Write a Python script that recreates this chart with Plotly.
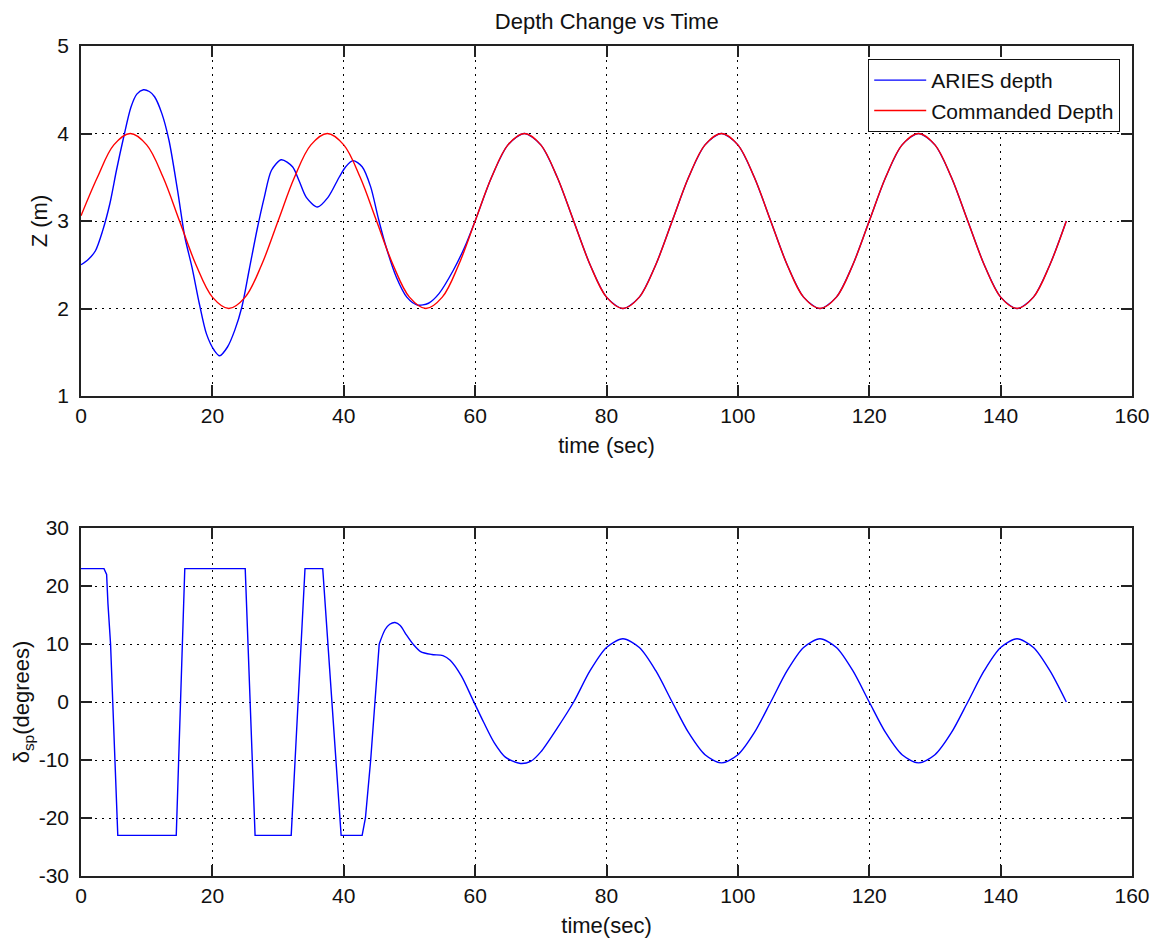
import plotly.graph_objects as go
from plotly.subplots import make_subplots

# ---------------- data ----------------
# Commanded depth (m), sampled every 2.5 s from 0 to 150 s
cmd_time = [0, 2.5, 5, 7.5, 10, 12.5, 15, 17.5, 20, 22.5, 25, 27.5,
            30, 32.5, 35, 37.5, 40, 42.5, 45, 47.5, 50, 52.5, 55, 57.5,
            60, 62.5, 65, 67.5, 70, 72.5, 75, 77.5, 80, 82.5, 85, 87.5,
            90, 92.5, 95, 97.5, 100, 102.5, 105, 107.5, 110, 112.5, 115, 117.5,
            120, 122.5, 125, 127.5, 130, 132.5, 135, 137.5, 140, 142.5, 145, 147.5,
            150]
cmd_depth = [3.06, 3.5, 3.87, 4.0, 3.87, 3.5, 3.0, 2.5, 2.13, 2.0, 2.13, 2.5,
             3.0, 3.5, 3.87, 4.0, 3.87, 3.5, 3.0, 2.5, 2.13, 2.0, 2.13, 2.5,
             3.0, 3.5, 3.87, 4.0, 3.87, 3.5, 3.0, 2.5, 2.13, 2.0, 2.13, 2.5,
             3.0, 3.5, 3.87, 4.0, 3.87, 3.5, 3.0, 2.5, 2.13, 2.0, 2.13, 2.5,
             3.0, 3.5, 3.87, 4.0, 3.87, 3.5, 3.0, 2.5, 2.13, 2.0, 2.13, 2.5,
             3.0]

# ARIES depth (m)
aries_time = [0, 1.1, 2.2, 3.3, 4.4, 5.4, 6.5, 7.6, 8.5, 9.5, 10.4, 11.2,
              12.3, 13.4, 14.7, 15.8, 16.9, 18.0, 19.1, 20.3, 21.1, 22.3, 23.4,
              24.5, 25.6, 26.8, 27.9, 29.0, 30.5, 32.2, 33.2, 34.3, 36.0, 37.6,
              39.3, 40.3, 41.4, 42.8, 44.1, 45.2, 46.3, 48.0, 49.6, 51.2, 52.9,
              54.5, 56.7, 58.4, 60.0,
              62.5, 65, 67.5, 70, 72.5, 75, 77.5, 80, 82.5, 85, 87.5,
              90, 92.5, 95, 97.5, 100, 102.5, 105, 107.5, 110, 112.5, 115, 117.5,
              120, 122.5, 125, 127.5, 130, 132.5, 135, 137.5, 140, 142.5, 145, 147.5,
              150]
aries_depth = [2.50, 2.56, 2.66, 2.89, 3.20, 3.58, 3.96, 4.30, 4.45, 4.50, 4.48, 4.42,
               4.23, 3.92, 3.35, 2.82, 2.47, 2.06, 1.71, 1.52, 1.46, 1.56, 1.75,
               2.02, 2.44, 2.90, 3.27, 3.58, 3.70, 3.62, 3.46, 3.27, 3.16, 3.27,
               3.50, 3.62, 3.69, 3.62, 3.39, 3.05, 2.74, 2.36, 2.13, 2.04, 2.06,
               2.17, 2.44, 2.70, 3.00,
               3.5, 3.87, 4.0, 3.87, 3.5, 3.0, 2.5, 2.13, 2.0, 2.13, 2.5,
               3.0, 3.5, 3.87, 4.0, 3.87, 3.5, 3.0, 2.5, 2.13, 2.0, 2.13, 2.5,
               3.0, 3.5, 3.87, 4.0, 3.87, 3.5, 3.0, 2.5, 2.13, 2.0, 2.13, 2.5,
               3.0]

# Sternplane deflection (deg): saturated switching phase
sat_time = [0, 3.5, 3.9, 4.1, 4.5, 4.8, 5.1, 5.4, 5.6, 14.5, 15.8, 25.0, 26.5,
            32.0, 34.1, 36.8, 39.6, 42.8, 43.3, 44.1, 44.7, 45.4]
sat_defl = [23, 23, 22, 17, 10, 0, -10, -20, -23, -23, 23, 23, -23,
            -23, 23, 23, -23, -23, -20, -10, 0, 10]

# Sternplane deflection (deg): smooth tracking phase
trk_time = [45.4, 46.3, 47.0, 47.8, 48.6, 49.4, 50.6, 51.7, 53.4, 55.1, 56.2,
            57.9, 59.6, 61.3, 62.9, 64.6, 66.9, 68.5, 70.0, 72.5, 75.0, 77.5,
            80, 82.5, 85, 87.5, 90, 92.5, 95, 97.5, 100, 102.5, 105, 107.5,
            110, 112.5, 115, 117.5, 120, 122.5, 125, 127.5, 130, 132.5, 135,
            137.5, 140, 142.5, 145, 147.5, 150]
trk_defl = [10.0, 12.5, 13.4, 13.7, 13.2, 11.8, 9.9, 8.7, 8.2, 8.0, 7.2,
            4.5, 0.5, -3.5, -7.0, -9.5, -10.6, -10.2, -8.6, -4.5, 0.0, 5.4,
            9.4, 10.9, 9.4, 5.4, 0.0, -5.3, -9.1, -10.5, -9.1, -5.3, 0.0, 5.4,
            9.4, 10.9, 9.4, 5.4, 0.0, -5.3, -9.1, -10.5, -9.1, -5.3, 0.0,
            5.4, 9.4, 10.9, 9.4, 5.4, 0.0]

x_ticks = [0, 20, 40, 60, 80, 100, 120, 140, 160]
z_ticks = [1, 2, 3, 4, 5]
d_ticks = [-30, -20, -10, 0, 10, 20, 30]

# ---------------- figure ----------------
# page has an 8 px body margin; target page positions are converted to figure coords
OFF = 8
W, H = 1159 - OFF, 944 - OFF
PL, PR, PT, PB = 81, 1132.5, 46, 876          # plot area in page pixels
ML, MR = PL - OFF, W - (PR - OFF)
MT, MB = PT - OFF, H - (PB - OFF)
plot_h = PB - PT
plot_w = PR - PL

fig = make_subplots(rows=2, cols=1, shared_xaxes=False, vertical_spacing=0.1)

BLUE = "#0000FF"
RED = "#FF0000"

fig.add_trace(go.Scatter(x=aries_time, y=aries_depth, mode="lines",
                         name="ARIES depth",
                         line=dict(color=BLUE, width=1.4, shape="spline", smoothing=0.8)),
              row=1, col=1)
fig.add_trace(go.Scatter(x=cmd_time, y=cmd_depth, mode="lines",
                         name="Commanded Depth",
                         line=dict(color=RED, width=1.4, shape="spline", smoothing=1.0)),
              row=1, col=1)
fig.add_trace(go.Scatter(x=sat_time, y=sat_defl, mode="lines", showlegend=False,
                         line=dict(color=BLUE, width=1.4)),
              row=2, col=1)
fig.add_trace(go.Scatter(x=trk_time, y=trk_defl, mode="lines", showlegend=False,
                         line=dict(color=BLUE, width=1.4, shape="spline", smoothing=0.8)),
              row=2, col=1)

FONT = "Liberation Sans, Arial, sans-serif"
TICKFONT = dict(family=FONT, size=21, color="#111111")
LABELFONT = dict(family=FONT, size=22, color="#111111")

axis_common = dict(
    showline=True, linecolor="#222222", linewidth=1.5, mirror="ticks",
    ticks="inside", ticklen=11, tickwidth=1.5, tickcolor="#222222",
    showgrid=True, gridcolor="#000000", gridwidth=1, griddash="2px,5px",
    zeroline=False, tickfont=TICKFONT, automargin=False,
)

top_dom = [(PB - 396) / plot_h, 1.0]
bot_dom = [0.0, (PB - 528) / plot_h]

fig.update_xaxes(range=[0, 160], tickvals=x_ticks,
                 ticktext=[str(v) for v in x_ticks], ticklabelstandoff=0, **axis_common)
fig.update_yaxes(ticklabelstandoff=6, **axis_common)

fig.update_layout(
    xaxis=dict(domain=[0, 1], title=dict(text="time (sec)", font=LABELFONT, standoff=12)),
    yaxis=dict(domain=top_dom, range=[1, 5], tickvals=z_ticks,
               ticktext=[str(v) for v in z_ticks],
               title=dict(text="Z (m)", font=LABELFONT, standoff=4)),
    xaxis2=dict(domain=[0, 1], title=dict(text="time(sec)", font=LABELFONT, standoff=12)),
    yaxis2=dict(domain=bot_dom, range=[-30, 30], tickvals=d_ticks,
                ticktext=[str(v) for v in d_ticks],
                title=dict(text="δ<sub>sp</sub>(degrees)", font=LABELFONT, standoff=3)),
)

fig.update_layout(
    width=W, height=H,
    margin=dict(l=ML, r=MR, t=MT, b=MB),
    paper_bgcolor="white", plot_bgcolor="white",
    title=dict(text="Depth Change vs Time", x=(PL + plot_w / 2 - OFF) / W,
               xanchor="center", y=1 - (21.7 - OFF) / H, yanchor="middle",
               font=dict(family=FONT, size=22, color="#111111")),
    legend=dict(x=(1120.7 - PL) / plot_w, y=(PB - 59) / plot_h,
                xanchor="right", yanchor="top",
                bgcolor="white", bordercolor="#111111", borderwidth=1,
                font=dict(family=FONT, size=21, color="#111111"),
                itemwidth=52, tracegroupgap=0),
    showlegend=True,
)

fig.write_html("out.html")
